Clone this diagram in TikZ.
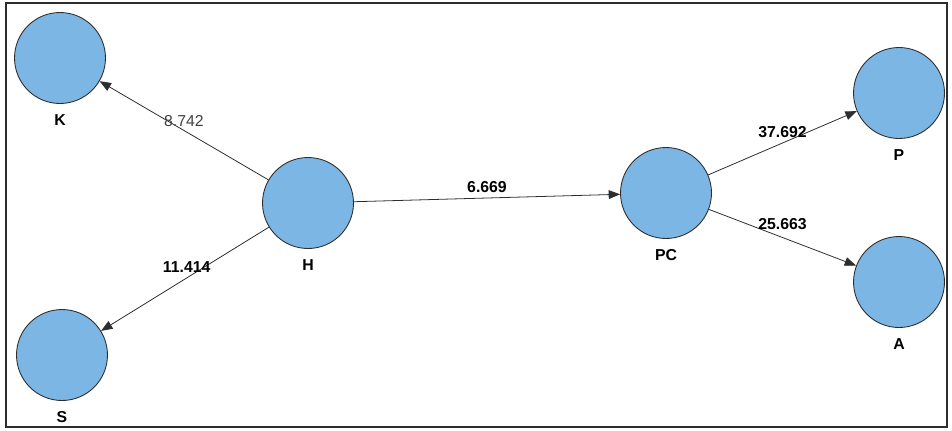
\documentclass[tikz,border=0pt]{standalone}
\usepackage{fontspec}
\setmainfont{Liberation Sans}
\usepackage{xcolor}
\usetikzlibrary{arrows.meta}

\definecolor{lvfill}{RGB}{124,182,228}
\definecolor{lvline}{RGB}{45,45,45}

\begin{document}
\begin{tikzpicture}[
    x=0.02cm, y=-0.02cm,
    font=\fontsize{9}{11}\selectfont,
    latent/.style = {circle, draw=lvline, fill=lvfill, line width=0.5pt,
                     minimum size=1.82cm, inner sep=0pt},
    lbl/.style = {font=\fontsize{9}{11}\selectfont\bfseries},
    arrow/.style = {-{Triangle[length=6.5pt, width=5pt]}, draw=lvline, line width=0.45pt},
    coef/.style = {font=\fontsize{9}{11}\selectfont\bfseries, inner sep=3pt},
    every label/.style = {label distance=2.5pt}
]

% Canvas and frame
\useasboundingbox (0,0) rectangle (952,430);
\draw[lvline, line width=1.1pt] (6,3) rectangle (947,427);

% Constructs
\node[latent, label={[lbl]below:K}]  (k)  at (60,58)   {};
\node[latent, label={[lbl]below:H}]  (h)  at (308,203) {};
\node[latent, label={[lbl]below:S}]  (s)  at (62,355)  {};
\node[latent, label={[lbl]below:PC}] (pc) at (666,193) {};
\node[latent, label={[lbl]below:P}]  (p)  at (899,93)  {};
\node[latent, label={[lbl]below:A}]  (a)  at (899,282) {};

% Paths with t-values
\draw[arrow] (h) -- node[coef, pos=.5, above, yshift=-1pt, font=\fontsize{9}{11}\selectfont, text=black!75] {8.742} (k);
\draw[arrow] (h) -- node[coef, pos=.49, above] {11.414} (s);
\draw[arrow] (h) -- node[coef, pos=.5, above] {6.669} (pc);
\draw[arrow] (pc) -- node[coef, pos=.5, above] {37.692} (p);
\draw[arrow] (pc) -- node[coef, pos=.5, above, yshift=1.5pt] {25.663} (a);

\end{tikzpicture}
\end{document}
